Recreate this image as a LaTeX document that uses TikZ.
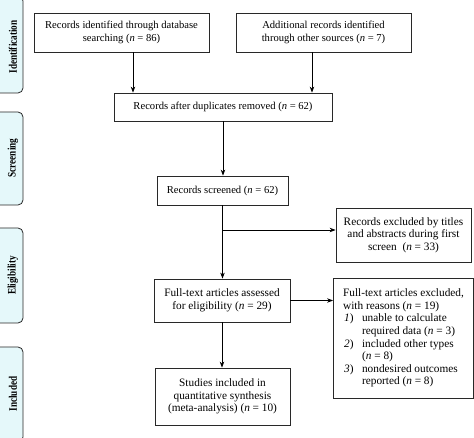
\documentclass[tikz,border=0pt]{standalone}
\usepackage{fontspec}
\setmainfont{Liberation Serif}
\usetikzlibrary{arrows.meta,calc}
\definecolor{sidefill}{RGB}{229,248,250}
\definecolor{lineclr}{RGB}{40,40,40}
\newcommand{\sidelbl}[1]{\scalebox{0.8}[1]{#1}}
\begin{document}
\begin{tikzpicture}[x=1pt,y=-1pt,
  box/.style={draw=lineclr,line width=0.8pt,align=center,inner sep=2pt,
    font=\fontsize{10.6}{13}\selectfont},
  lbox/.style={box,font=\fontsize{11.3}{12.6}\selectfont},
  arr/.style={-{Stealth[length=6pt,width=4.5pt]},line width=0.8pt,draw=black},
  side/.style={draw=lineclr,line width=0.8pt,fill=sidefill,rounded corners=5pt},
  sidetext/.style={rotate=90,font=\bfseries\fontsize{11.5}{12}\selectfont}]
\useasboundingbox (0,0) rectangle (474,438);
% side labels
\draw[side] (-8,-4) rectangle (23,93);
\node[sidetext] (tid) at (13,47) {\sidelbl{Identification}};
\draw[side] (-8,112) rectangle (23,205);
\node[sidetext] (tsc) at (13,158) {\sidelbl{Screening}};
\draw[side] (-8,228) rectangle (23,323);
\node[sidetext] (tel) at (13,275.5) {\sidelbl{Eligibility}};
\draw[side] (-8,347) rectangle (23,442);
\node[sidetext] (tin) at (13,394) {\sidelbl{Included}};
% boxes
\node[box,minimum width=175,minimum height=39] (b1) at (121.5,32.5)
  {Records identified through database\\searching (\textit{n} = 86)};
\node[box,minimum width=175,minimum height=39] (b2) at (323.5,32.5)
  {Additional records identified\\through other sources (\textit{n} = 7)};
\node[box,minimum width=218,minimum height=28] (b3) at (223,107)
  {Records after duplicates removed (\textit{n} = 62)};
\node[box,minimum width=131,minimum height=29] (b4) at (222.5,190.5)
  {Records screened (\textit{n} = 62)};
\node[lbox,minimum width=135,minimum height=54] (e1) at (403.5,235)
  {Records excluded by titles\\and abstracts during first\\screen\ \ (\textit{n} = 33)};
\node[lbox,minimum width=136,minimum height=43] (b5) at (222,300.5)
  {Full-text articles assessed\\for eligibility (\textit{n} = 29)};
\node[lbox,minimum width=140,minimum height=120,align=left,inner sep=7pt] (e2) at (403.5,338)
  {Full-text articles excluded,\\
   with reasons (\textit{n} = 19)\\
   \makebox[19pt][l]{\hspace{1pt}\textit{1})}unable to calculate\\
   \hspace*{19pt}required data (\textit{n} = 3)\\
   \makebox[19pt][l]{\hspace{1pt}\textit{2})}included other types\\
   \hspace*{19pt}(\textit{n} = 8)\\
   \makebox[19pt][l]{\hspace{1pt}\textit{3})}nondesired outcomes\\
   \hspace*{19pt}reported (\textit{n} = 8)};
\node[lbox,minimum width=135,minimum height=57] (b7) at (222.5,396.5)
  {Studies included in\\quantitative synthesis\\(meta-analysis) (\textit{n} = 10)};
% connectors
\draw[arr] ([xshift=11.5pt]b1.south) -- ([xshift=11.5pt]b1.south |- b3.north);
\draw[arr] ([xshift=-11.5pt]b2.south) -- ([xshift=-11.5pt]b2.south |- b3.north);
\draw[arr] (b3.south) -- (b3.south |- b4.north);
\coordinate (brr) at (b4.south |- 0,230);
\draw[arr] (b4.south) -- (b4.south |- b5.north);
\draw[arr] (brr) -- (brr -| e1.west);
\draw[arr] (b5.east) -- (b5.east -| e2.west);
\draw[arr] (b5.south) -- (b5.south |- b7.north);
\end{tikzpicture}
\end{document}
